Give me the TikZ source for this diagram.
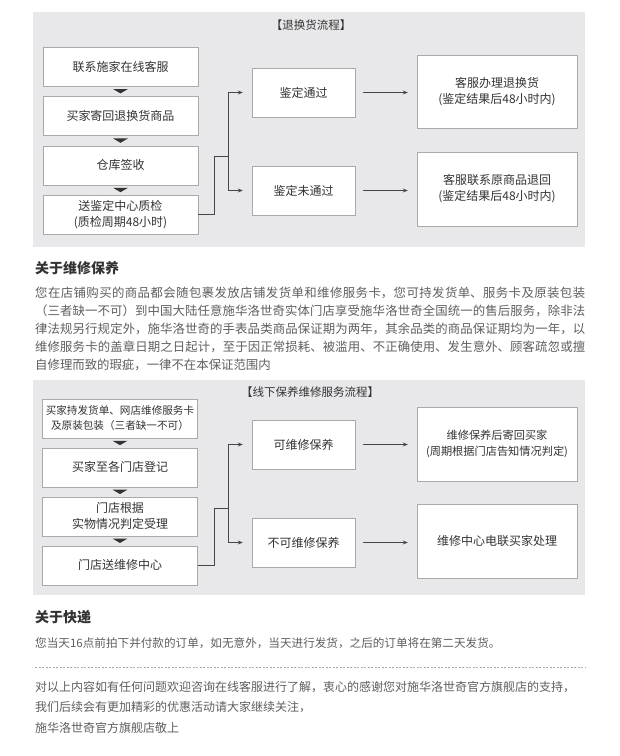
\documentclass[tikz,border=0pt]{standalone}
\usepackage{fontspec}
\setmainfont{Noto Sans CJK SC}
\usepackage{xcolor}
\usepackage{tikz}
\usetikzlibrary{positioning,arrows.meta,calc}
\definecolor{panelgray}{RGB}{232,232,234}
\definecolor{framegray}{RGB}{170,170,170}
\definecolor{inkgray}{RGB}{51,51,51}
\definecolor{linegray}{RGB}{70,70,70}
\definecolor{bodygray}{RGB}{95,95,95}
\XeTeXlinebreaklocale "zh"
\XeTeXlinebreakskip=0pt plus 1pt

\begin{document}
\begin{tikzpicture}[x=1pt, y=-1pt, >={Stealth[length=5pt,width=4pt]},
  node distance=10pt,
  stepbox/.style={draw=framegray, fill=white, minimum width=155pt, minimum height=39pt,
              inner sep=1pt, align=center, text=inkgray, font=\fontsize{12}{16}\selectfont},
  checkbox/.style={stepbox, minimum width=103pt, minimum height=49pt},
  resultbox/.style={stepbox, minimum width=160pt, minimum height=73.5pt},
  title/.style={text=inkgray, inner sep=0pt, font=\fontsize{11.5}{14}\selectfont},
  heading/.style={anchor=west, text=inkgray, inner sep=0pt, font=\fontsize{14}{16}\selectfont\bfseries},
  bodytext/.style={anchor=north west, inner sep=0pt, text=bodygray},
  link/.style={draw=linegray, line width=0.8pt}]
  \fill[white] (0,0) rectangle (620,756);
  \useasboundingbox (0,0) rectangle (620,756);

  % returns and exchanges
  \fill[panelgray] (33,12) rectangle (585,247);
  \node (t1) [title] at (311,25) {【退换货流程】};
  \node (a1) [stepbox] at (120.5,66.5) {联系施家在线客服};
  \node (a2) [stepbox, below=of a1] {买家寄回退换货商品};
  \node (a3) [stepbox, below=of a2] {仓库签收};
  \node (a4) [stepbox, below=of a3] {送鉴定中心质检\\(质检周期48小时)};
  \node (b1) [checkbox] at (303.5,92.5) {鉴定通过};
  \node (b2) [checkbox] at (303.5,190.5) {鉴定未通过};
  \node (c1) [resultbox] at (497,91.5) {客服办理退换货\\(鉴定结果后48小时内)};
  \node (c2) [resultbox] at (497,189) {客服联系原商品退回\\(鉴定结果后48小时内)};
  \coordinate (fork1) at (228,156);
  \draw[link] (a4.east) -- ++(16,0) |- (fork1);
  \draw[link, ->, shorten >=9pt] (fork1) |- (b1.west);
  \draw[link, ->, shorten >=9pt] (fork1) |- (b2.west);
  \draw[link, ->, shorten <=8pt, shorten >=9pt] (b1.east) -- (b1.east -| c1.west);
  \draw[link, ->, shorten <=8pt, shorten >=9pt] (b2.east) -- (b2.east -| c2.west);

  % repair service
  \fill[panelgray] (33,380) rectangle (585,595);
  \node (t2) [title] at (310,392) {【线下保养维修服务流程】};
  \node (d1) [stepbox, font=\fontsize{10.6}{15}\selectfont] at (120,418.5)
    {买家持发货单、网店维修服务卡\\及原装包装（三者缺一不可）};
  \node (d2) [stepbox, below=9.5pt of d1] {买家至各门店登记};
  \node (d3) [stepbox, below=9.5pt of d2] {门店根据\\实物情况判定受理};
  \node (d4) [stepbox, below=9.5pt of d3] {门店送维修中心};
  \node (e1) [checkbox] at (303.5,444.5) {可维修保养};
  \node (e2) [checkbox] at (303.5,542.5) {不可维修保养};
  \node (f1) [resultbox, font=\fontsize{11.2}{16}\selectfont] at (497,444) {维修保养后寄回买家\\(周期根据门店告知情况判定)};
  \node (f2) [resultbox] at (497,541) {维修中心电联买家处理};
  \coordinate (fork2) at (228,508);
  \draw[link] (d4.east) -- ++(17,0) |- (fork2);
  \draw[link, ->, shorten >=9pt] (fork2) |- (e1.west);
  \draw[link, ->, shorten >=9pt] (fork2) |- (e2.west);
  \draw[link, ->, shorten <=8pt, shorten >=9pt] (e1.east) -- (e1.east -| f1.west);
  \draw[link, ->, shorten <=8pt, shorten >=9pt] (e2.east) -- (e2.east -| f2.west);

  % small arrowheads between the steps
  \foreach \u/\l in {a1/a2,a2/a3,a3/a4,d1/d2,d2/d3,d3/d4}
    \fill[inkgray] ($(\u.south)!.5!(\l.north)$) +(-7.5,-2.2) -- +(7.5,-2.2) -- +(0,2.2) -- cycle;

  % text
  \node (h1) [heading] at (35,268) {关于维修保养};
  \node (p1) [bodytext, text width=550pt, align=justify, font=\fontsize{12.4}{18}\selectfont] at (35,287)
    {您在店铺购买的商品都会随包裹发放店铺发货单和维修服务卡，您可持发货单、服务卡及原装包装\linebreak
     （三者缺一不可）到中国大陆任意施华洛世奇实体门店享受施华洛世奇全国统一的售后服务，除非法\linebreak
     律法规另行规定外，施华洛世奇的手表品类商品保证期为两年，其余品类的商品保证期均为一年，以\linebreak
     维修服务卡的盖章日期之日起计，至于因正常损耗、被滥用、不正确使用、发生意外、顾客疏忽或擅\linebreak
     自修理而致的瑕疵，一律不在本保证范围内};
  \node (h2) [heading] at (35,617) {关于快递};
  \node (p2) [bodytext, anchor=west, font=\fontsize{11.6}{14}\selectfont] at (35,643)
    {您当天16点前拍下并付款的订单，如无意外，当天进行发货，之后的订单将在第二天发货。};
  \coordinate (rule1) at (35,667);
  \coordinate (rule2) at (585,667);
  \draw[framegray, line width=0.5pt, dash pattern=on 2pt off 1.5pt] (rule1) -- (rule2);
  \node (p3) [bodytext, align=left, font=\fontsize{12}{20.5}\selectfont] at (35,681)
    {对以上内容如有任何问题欢迎咨询在线客服进行了解，衷心的感谢您对施华洛世奇官方旗舰店的支持，\\
     我们后续会有更加精彩的优惠活动请大家继续关注，\\
     施华洛世奇官方旗舰店敬上};
\end{tikzpicture}
\end{document}
